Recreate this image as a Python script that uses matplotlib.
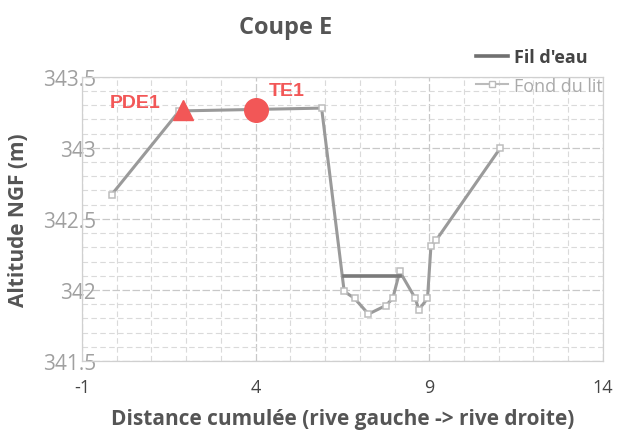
import matplotlib
matplotlib.use("Agg")
import matplotlib.pyplot as plt
from matplotlib.ticker import MultipleLocator
from matplotlib.lines import Line2D

plt.rcParams["axes.unicode_minus"] = False

# Fond du lit (bed profile), distance cumulée vs altitude NGF
bed_x = [-0.15, 1.8, 5.9, 6.55, 6.85, 7.25, 7.75, 7.95, 8.15, 8.6, 8.7, 8.95, 9.05, 9.2, 11.05]
bed_y = [342.67, 343.26, 343.28, 341.99, 341.94, 341.83, 341.89, 341.94, 342.13, 341.94, 341.86, 341.94, 342.31, 342.35, 343.0]

# Fil d'eau (water level)
water_x = [6.55, 8.15]
water_y = [342.1, 342.1]

# measurement points
pts_name = ["PDE1", "TE1"]
pts_x = [1.9, 4.0]
pts_y = [343.27, 343.27]

x_ticks = [-1, 4, 9, 14]
y_ticks = [341.5, 342, 342.5, 343, 343.5]
y_labels = ["341.5", "342", "342.5", "343", "343.5"]

RED = "#f25757"
FONT = "Open Sans"

fig = plt.figure(figsize=(6.17, 4.35), dpi=100)
ax = fig.add_axes([0.133, 0.168, 0.844, 0.653])

ax.plot(bed_x, bed_y, color="#9a9a9a", lw=2.2, marker="s", ms=5,
        mfc="white", mec="#bdbdbd", mew=1.1, zorder=3)
ax.plot(water_x, water_y, color="#7a7a7a", lw=2.6, zorder=3)

ax.plot(pts_x[0], pts_y[0], marker="^", ms=14, color=RED, ls="none", zorder=5)
ax.plot(pts_x[1], pts_y[1], marker="o", ms=17, color=RED, ls="none", zorder=5)
ax.annotate(pts_name[0], (pts_x[0], pts_y[0]), xytext=(-34, 5), textcoords="offset points",
            color=RED, fontsize=14, fontweight="bold", family="Liberation Sans",
            ha="center", va="center")
ax.annotate(pts_name[1], (pts_x[1], pts_y[1]), xytext=(22, 14), textcoords="offset points",
            color=RED, fontsize=14, fontweight="bold", family="Liberation Sans",
            ha="center", va="center")

ax.set_xlim(-1, 14)
ax.set_ylim(341.5, 343.5)
ax.set_xticks(x_ticks)
ax.xaxis.set_minor_locator(MultipleLocator(1))
ax.set_yticks(y_ticks)
ax.set_yticklabels(y_labels)
ax.yaxis.set_minor_locator(MultipleLocator(0.1))

ax.grid(which="major", color="#c8c8c8", lw=0.9, ls=(0, (6, 2)))
ax.grid(which="minor", color="#dadada", lw=0.8, ls=(0, (5, 3)))
ax.set_axisbelow(True)
for s in ax.spines.values():
    s.set_color("#d0d0d0")
    s.set_linewidth(0.9)
ax.tick_params(which="both", length=0)
ax.tick_params(axis="y", labelsize=15, colors="#a0a0a0", pad=-10)
ax.tick_params(axis="x", labelsize=13, colors="#444444", pad=12)
for t in ax.get_xticklabels() + ax.get_yticklabels():
    t.set_family(FONT)

ax.set_xlabel("Distance cumulée (rive gauche -> rive droite)", fontsize=15,
              fontweight="bold", color="#555555", family=FONT, labelpad=9)
ax.set_ylabel("Altitude NGF (m)", fontsize=15, fontweight="bold",
              color="#555555", family=FONT, labelpad=10)
fig.text(0.463, 0.935, "Coupe E", fontsize=17, fontweight="bold", color="#555555",
         family=FONT, ha="center", va="center")

handles = [Line2D([], [], color="#707070", lw=2.6),
           Line2D([], [], color="#bbbbbb", lw=1.5, marker="s", ms=4, mfc="white", mec="#bbbbbb")]
leg = fig.legend(handles, ["Fil d'eau", "Fond du lit"], loc="upper left",
                 bbox_to_anchor=(0.745, 0.925), frameon=False,
                 handlelength=1.8, handletextpad=0.3, labelspacing=0.6,
                 prop={"family": FONT, "size": 13})
texts = leg.get_texts()
texts[0].set_color("#444444"); texts[0].set_fontweight("bold")
texts[1].set_color("#aaaaaa")

fig.savefig("out.png", dpi=100)
